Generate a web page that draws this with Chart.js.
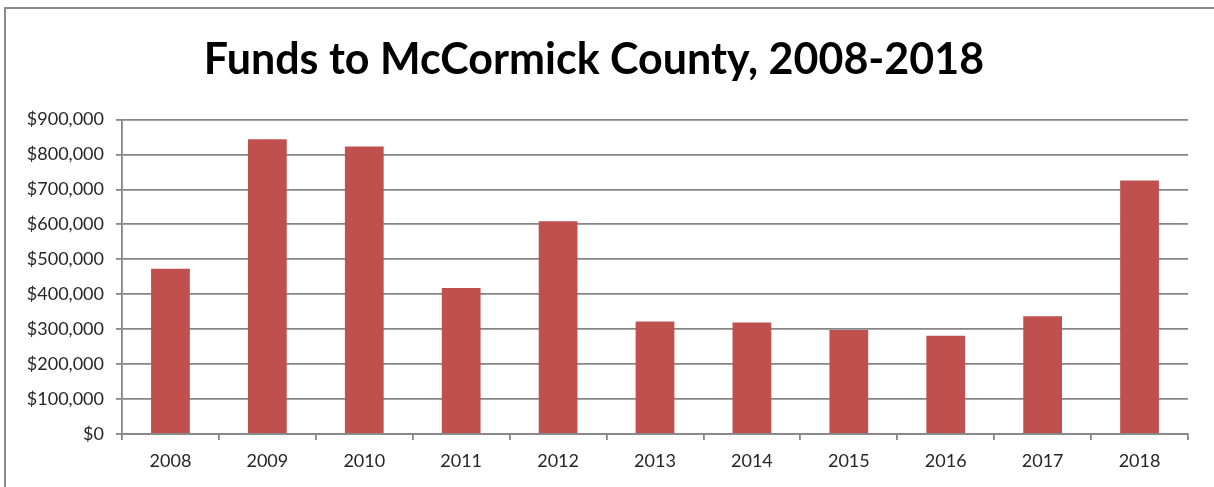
<!DOCTYPE html>
<html>
<head>
    <title>Funds to McCormick County, 2008-2018</title>
    <script src="https://cdn.jsdelivr.net/npm/chart.js"></script>
    <style>
        html, body { margin: 0; padding: 0; background: #fff; }
        #fundsChart { display: block; }
    </style>
</head>
<body>
    <canvas id="fundsChart" width="1214" height="487"></canvas>
    <script>
        const years = ['2008', '2009', '2010', '2011', '2012', '2013', '2014', '2015', '2016', '2017', '2018'];
        const funds = [473000, 844000, 823000, 418000, 609000, 322000, 319000, 298000, 281000, 337000, 726000];
        const titleText = 'Funds to McCormick County, 2008-2018';

        const gridColor = '#868686';
        const textColor = '#262626';

        // frame lines at the top and left of the picture
        const framePlugin = {
            id: 'frame',
            beforeDraw(chart) {
                const c = chart.ctx;
                c.save();
                c.fillStyle = '#fff';
                c.fillRect(0, 0, chart.width, chart.height);
                c.strokeStyle = '#8a8a8a';
                c.lineWidth = 2;
                c.beginPath();
                c.moveTo(5, chart.height);
                c.lineTo(5, 8);
                c.lineTo(chart.width, 8);
                c.stroke();
                c.restore();
            }
        };

        const ctx = document.getElementById('fundsChart').getContext('2d');
        const fundsChart = new Chart(ctx, {
            type: 'bar',
            data: {
                labels: years,
                datasets: [{
                    label: 'Funds',
                    data: funds,
                    backgroundColor: '#c0504d',
                    borderWidth: 0,
                    barPercentage: 0.4,
                    categoryPercentage: 1.0
                }]
            },
            options: {
                responsive: false,
                animation: false,
                layout: { padding: { left: 0, right: 26, top: 0, bottom: 0 } },
                plugins: {
                    legend: { display: false },
                    tooltip: { enabled: false },
                    title: {
                        display: true,
                        text: titleText,
                        color: '#000',
                        font: { family: 'Lato', size: 43, weight: 'bold' },
                        padding: { top: 34, bottom: 34 }
                    }
                },
                scales: {
                    x: {
                        grid: {
                            offset: true,
                            drawOnChartArea: false,
                            drawTicks: true,
                            tickLength: 6,
                            color: gridColor,
                            lineWidth: 1.8
                        },
                        border: { color: gridColor, width: 1.8 },
                        ticks: {
                            color: textColor,
                            font: { family: 'Lato', size: 18 },
                            padding: 10,
                            maxRotation: 0
                        },
                        afterFit(scale) { scale.height = 53; }
                    },
                    y: {
                        min: 0,
                        max: 900000,
                        grid: {
                            color: gridColor,
                            lineWidth: 1.8,
                            tickLength: 6
                        },
                        border: { color: gridColor, width: 1.8 },
                        ticks: {
                            stepSize: 100000,
                            color: textColor,
                            font: { family: 'Lato', size: 18 },
                            padding: 12,
                            callback: v => '$' + v.toLocaleString('en-US')
                        },
                        afterFit(scale) { scale.width = 122; }
                    }
                }
            },
            plugins: [framePlugin]
        });
    </script>
</body>
</html>
